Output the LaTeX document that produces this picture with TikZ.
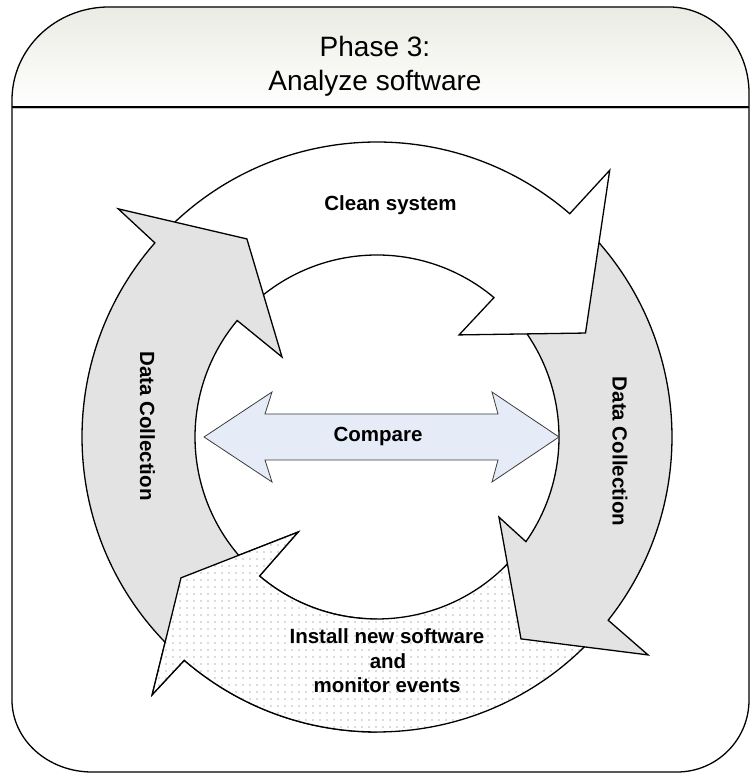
\documentclass[tikz,border=0pt]{standalone}
\usepackage{fontspec}
\setmainfont{Liberation Sans}
\usetikzlibrary{patterns.meta}

% light grey dot grid used for the install step
\tikzdeclarepattern{
  name=sparsedots,
  type=uncolored,
  bottom left={(0pt,0pt)},
  top right={(6.5pt,6.5pt)},
  tile size={(6.5pt,6.5pt)},
  code={\pgfpathcircle{\pgfpoint{3.25pt}{3.25pt}}{0.9pt}\pgfusepath{fill}}
}

\definecolor{ringgray}{RGB}{227,227,227}
\definecolor{cmpblue}{RGB}{229,236,247}
\definecolor{cmpline}{RGB}{60,60,60}
\definecolor{headtop}{RGB}{235,235,228}

\begin{document}
\begin{tikzpicture}[x=1pt,y=1pt,line join=miter,
  frameline/.style={draw=black,line width=1.3pt},
  ringline/.style={draw=black,line width=1.3pt},
  greyarrow/.style={ringline,fill=ringgray},
  whitearrow/.style={ringline,fill=white},
  dotarrow/.style={ringline,preaction={fill=white},pattern=sparsedots,pattern color=black!28},
  cmparrow/.style={draw=cmpline,line width=0.8pt,fill=cmpblue},
  title/.style={inner sep=0pt,font=\fontsize{28}{33}\selectfont},
  steplabel/.style={inner sep=0pt,font=\fontsize{20.5}{25}\selectfont\bfseries}]

\useasboundingbox (0,0) rectangle (750,778);
\clip (0,0) rectangle (750,778);
\fill[white] (0,0) rectangle (750,778);

% panel header with soft gradient
\shade[top color=headtop,bottom color=white]
  (12,671) -- (12,678) arc[start angle=180,end angle=90,x radius=97,y radius=93]
  -- (669,771) arc[start angle=90,end angle=0,x radius=80,y radius=86]
  -- (749,671) -- cycle;

% panel outline and header rule
\draw[frameline] (12,678) arc[start angle=180,end angle=90,x radius=97,y radius=93]
  -- (669,771) arc[start angle=90,end angle=0,x radius=80,y radius=86]
  -- (749,78) arc[start angle=0,end angle=-90,x radius=72,y radius=72]
  -- (92,6) arc[start angle=-90,end angle=-180,x radius=80,y radius=72] -- cycle;
\draw[gray!45,line width=1pt] (13,669.2) -- (748,669.2);
\draw[frameline] (12,671) -- (749,671);

\node[title,anchor=base] (phase) at (375,721) {Phase 3:};
\node[title,anchor=base] (phasename) at (375,687) {Analyze software};

% the four circular arrows of the cycle, centred on the ring centre
\begin{scope}[shift={(377,341)}]
  % install step (bottom)
  \path[dotarrow] (318.5:295) arc[start angle=318.5,end angle=229.2,radius=295]
    -- (228.9:342) -- (215.7:241.4) -- (230.3:123.6)
    -- (229.8:182) arc[start angle=229.8,end angle=318.5,radius=182] -- cycle;
  % data collection (right)
  \path[greyarrow] (45.5:295) arc[start angle=45.5,end angle=-38.4,radius=295]
    -- (-38.8:347.8) -- (-54.5:248) -- (-33.3:145.9)
    -- (-35.1:182) arc[start angle=-35.1,end angle=45.5,radius=182] -- cycle;
  % clean system (top)
  \path[whitearrow] (137:295) arc[start angle=137,end angle=49.2,radius=295]
    -- (48.9:354) -- (26.5:233) -- (51.2:131)
    -- (50:182) arc[start angle=50,end angle=137,radius=182] -- cycle;
  % data collection (left)
  \path[greyarrow] (227:295) arc[start angle=227,end angle=138.85,radius=295]
    -- (138.6:345) -- (123.3:237) -- (139.9:124.2)
    -- (140.2:182) arc[start angle=140.2,end angle=227,radius=182] -- cycle;
  % head of the install step lies over the tail of the left arrow
  \begin{scope}
    \clip (-377,-341) rectangle (0,0);
    \path[dotarrow] (318.5:295) arc[start angle=318.5,end angle=229.2,radius=295]
      -- (228.9:342) -- (215.7:241.4) -- (230.3:123.6)
      -- (229.8:182) arc[start angle=229.8,end angle=318.5,radius=182] -- cycle;
  \end{scope}
\end{scope}

% double arrow in the middle
\path[cmparrow] (204,341) -- (272,386) -- (265,364) -- (498,364) -- (492,386)
  -- (559,341) -- (492,296) -- (498,318) -- (265,318) -- (272,296) -- cycle;

\node[steplabel,anchor=base] (clean) at (390.5,567) {Clean system};
\node[steplabel,anchor=base] (compare) at (378,336.3) {Compare};
\node[steplabel,rotate=-90] (dcleft) at (147.5,352) {Data Collection};
\node[steplabel,rotate=-90] (dcright) at (620,326.5) {Data Collection};
\node[steplabel,anchor=base] (install) at (387,134.7) {Install new software};
\node[steplabel,anchor=base] (installand) at (388,109.7) {and};
\node[steplabel,anchor=base] (monitor) at (387,85) {monitor events};
\end{tikzpicture}
\end{document}
